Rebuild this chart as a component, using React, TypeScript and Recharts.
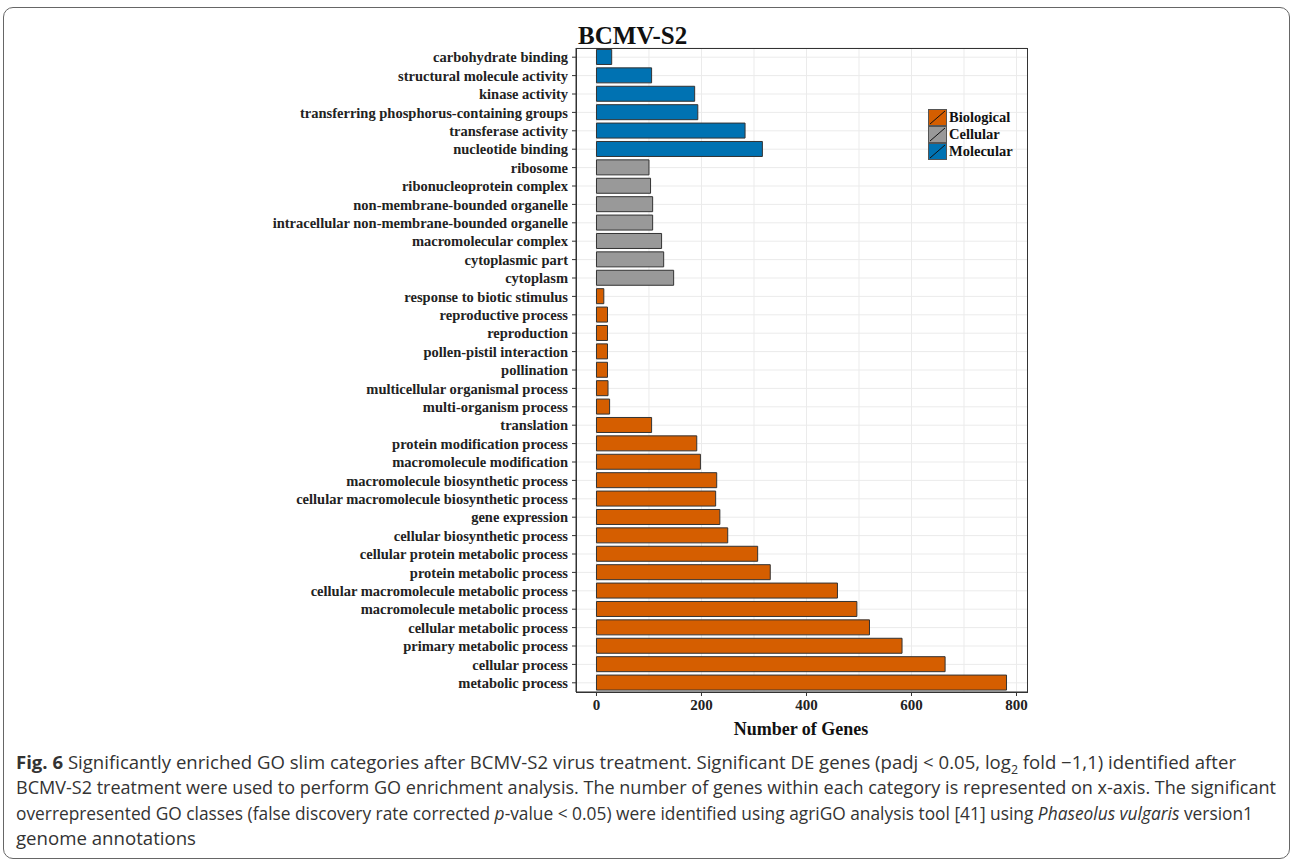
import { Bar, BarChart, CartesianGrid, Cell, Legend, XAxis, YAxis } from "recharts";

// GO slim categories, top to bottom as drawn
const categories = [
  "carbohydrate binding",
  "structural molecule activity",
  "kinase activity",
  "transferring phosphorus-containing groups",
  "transferase activity",
  "nucleotide binding",
  "ribosome",
  "ribonucleoprotein complex",
  "non-membrane-bounded organelle",
  "intracellular non-membrane-bounded organelle",
  "macromolecular complex",
  "cytoplasmic part",
  "cytoplasm",
  "response to biotic stimulus",
  "reproductive process",
  "reproduction",
  "pollen-pistil interaction",
  "pollination",
  "multicellular organismal process",
  "multi-organism process",
  "translation",
  "protein modification process",
  "macromolecule modification",
  "macromolecule biosynthetic process",
  "cellular macromolecule biosynthetic process",
  "gene expression",
  "cellular biosynthetic process",
  "cellular protein metabolic process",
  "protein metabolic process",
  "cellular macromolecule metabolic process",
  "macromolecule metabolic process",
  "cellular metabolic process",
  "primary metabolic process",
  "cellular process",
  "metabolic process",
];

const geneCounts = [
  29, 105, 187, 193, 283, 316,
  100, 103, 107, 107, 124, 128, 147,
  14, 21, 21, 21, 21, 22, 25, 105, 191, 198, 229, 227, 235, 250, 307, 331,
  459, 496, 520, 582, 664, 781,
];

const ontology = [
  "Molecular", "Molecular", "Molecular", "Molecular", "Molecular", "Molecular",
  "Cellular", "Cellular", "Cellular", "Cellular", "Cellular", "Cellular", "Cellular",
  "Biological", "Biological", "Biological", "Biological", "Biological", "Biological",
  "Biological", "Biological", "Biological", "Biological", "Biological", "Biological",
  "Biological", "Biological", "Biological", "Biological", "Biological", "Biological",
  "Biological", "Biological", "Biological", "Biological",
];

const groups = ["Biological", "Cellular", "Molecular"];
const groupColors: Record<string, string> = {
  Biological: "#D55E00",
  Cellular: "#999999",
  Molecular: "#0072B2",
};

const xTicks = [0, 200, 400, 600, 800];
const gridValues = [0, 100, 200, 300, 400, 500, 600, 700, 800];
const xDomain = [-39, 820];

const data = categories.map((name, i) => ({
  name,
  genes: geneCounts[i],
  group: ontology[i],
}));

const serif = "'Liberation Serif', 'Times New Roman', serif";

function LegendBox() {
  return (
    <div style={{ fontFamily: serif, fontWeight: "bold", fontSize: 14.5, color: "#111" }}>
      {groups.map((g) => (
        <div key={g} style={{ display: "flex", alignItems: "center", height: 17 }}>
          <svg width={19} height={17} style={{ display: "block" }}>
            <rect x={0.5} y={0.5} width={18} height={16} fill={groupColors[g]} stroke="#555" />
            <line x1={2} y1={15} x2={17} y2={2} stroke="#111" strokeWidth={1} />
          </svg>
          <span style={{ marginLeft: 2, lineHeight: "17px" }}>{g}</span>
        </div>
      ))}
    </div>
  );
}

// figure caption, one svg text per printed line (widths fitted to the page)
function Caption() {
  const lineProps = {
    x: 16,
    lengthAdjust: "spacingAndGlyphs" as const,
  };
  return (
    <svg
      width={1292}
      height={120}
      style={{ position: "absolute", left: 0, top: 744 }}
      fontFamily="'Open Sans', 'Noto Sans', sans-serif"
      fontSize={18}
      fill="#333"
    >
      <text {...lineProps} y={25} textLength={1220}>
        <tspan fontWeight="bold">Fig. 6</tspan> Significantly enriched GO slim categories after BCMV-S2 virus
        treatment. Significant DE genes (padj &lt; 0.05, log
        <tspan fontSize={12} dy={5}>2</tspan>
        <tspan dy={-5}> fold −1,1) identified after</tspan>
      </text>
      <text {...lineProps} y={50.3} textLength={1260}>
        BCMV-S2 treatment were used to perform GO enrichment analysis. The number of genes within each category is
        represented on x-axis. The significant
      </text>
      <text {...lineProps} y={75.6} textLength={1237}>
        overrepresented GO classes (false discovery rate corrected <tspan fontStyle="italic">p</tspan>-value &lt; 0.05)
        were identified using agriGO analysis tool [41] using <tspan fontStyle="italic">Phaseolus vulgaris</tspan>{" "}
        version1
      </text>
      <text {...lineProps} y={100.9} textLength={180}>
        genome annotations
      </text>
    </svg>
  );
}

export default function App() {
  return (
    <div
      style={{
        position: "absolute",
        left: 0,
        top: 0,
        width: 1292,
        height: 864,
        background: "#fff",
        overflow: "hidden",
      }}
    >
      {/* figure frame */}
      <div
        style={{
          position: "absolute",
          left: 3,
          top: 7,
          width: 1285,
          height: 850,
          border: "1px solid #666",
          borderRadius: 10,
        }}
      />

      <div
        style={{
          position: "absolute",
          left: 578,
          top: 23,
          fontFamily: serif,
          fontWeight: "bold",
          fontSize: 25,
          lineHeight: "25px",
          color: "#111",
        }}
      >
        BCMV-S2
      </div>

      <div style={{ position: "absolute", left: 0, top: 0 }}>
        <BarChart
          width={1060}
          height={760}
          data={data}
          layout="vertical"
          margin={{ top: 48, right: 33, bottom: 28, left: 0 }}
          barCategoryGap="8%"
        >
          <CartesianGrid stroke="#ebebeb" verticalValues={gridValues} />
          <XAxis
            type="number"
            domain={xDomain}
            ticks={xTicks}
            height={40}
            tickSize={4}
            tickMargin={3}
            axisLine={{ stroke: "#333" }}
            tickLine={{ stroke: "#333" }}
            tick={{ fontFamily: serif, fontWeight: "bold", fontSize: 15, fill: "#222" }}
          />
          <YAxis
            type="category"
            dataKey="name"
            width={576}
            interval={0}
            tickSize={4}
            tickMargin={4}
            axisLine={{ stroke: "#333" }}
            tickLine={{ stroke: "#333" }}
            tick={{ fontFamily: serif, fontWeight: "bold", fontSize: 14.5, fill: "#222" }}
          />
          <Legend
            layout="vertical"
            align="center"
            verticalAlign="middle"
            wrapperStyle={{ left: 928, top: 109, width: 100 }}
            content={() => <LegendBox />}
          />
          <Bar dataKey="genes" stroke="#333" strokeWidth={1} isAnimationActive={false}>
            {data.map((d) => (
              <Cell key={d.name} fill={groupColors[d.group]} />
            ))}
          </Bar>
        </BarChart>
      </div>

      {/* panel border */}
      <div
        style={{
          position: "absolute",
          left: 576,
          top: 48,
          width: 450,
          height: 643,
          border: "1px solid #333",
          pointerEvents: "none",
        }}
      />

      <div
        style={{
          position: "absolute",
          left: 701,
          width: 200,
          top: 720,
          textAlign: "center",
          fontFamily: serif,
          fontWeight: "bold",
          fontSize: 18,
          lineHeight: "18px",
          color: "#111",
        }}
      >
        Number of Genes
      </div>

      <Caption />
    </div>
  );
}
